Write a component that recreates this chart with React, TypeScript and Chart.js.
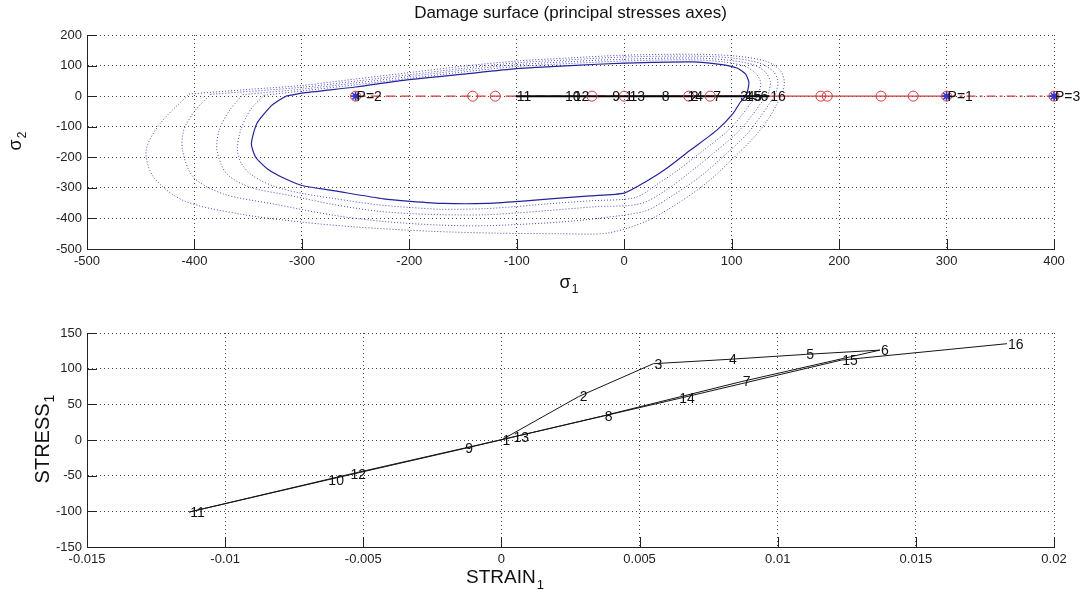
import React, { useEffect, useRef } from 'react';
import { Chart, registerables } from 'chart.js';

Chart.register(...registerables);

// ---------- data ----------

// Stress path: point numbers with uniaxial strain and stress
const pointIds = ['1', '2', '3', '4', '5', '6', '7', '8', '9', '10', '11', '12', '13', '14', '15', '16'];
const strain1 = [0, 0.0028, 0.0055, 0.0082, 0.011, 0.0137, 0.0087, 0.0037, -0.00135, -0.0063, -0.0113, -0.0055, 0.0004, 0.0064, 0.0123, 0.0183];
const stress1 = [0, 61, 107, 113, 120, 126, 82, 34, -12, -56, -101, -48, 4, 58, 112, 135];

// Load points on the sigma1 axis
const loadLabels = ['P=1', 'P=2', 'P=3'];
const loadSigma1 = [300, -250, 400];
// Intermediate load steps (red circles)
const stepSigma1 = [-141, -120, -30, 0, 60, 80, 183, 189, 239, 269];

// Current damage surface (solid)
const surfS1 = [-315, -300, -250, -208, -150, -100, -50, 0, 64, 89, 105, 113, 116, 115, 113, 108, 101, 86, 61, 40, 20, 0, -32, -69, -97, -128, -168, -199, -224, -271, -298, -315, -332, -343, -347, -342, -328, -315];
const surfS2 = [0, 10, 30, 51, 72, 90, 100, 108, 112, 104, 92, 72, 46, 20, 0, -20, -58, -112, -178, -235, -280, -317, -326, -336, -344, -351, -351, -344, -336, -309, -294, -271, -238, -200, -156, -90, -30, 0];

// Grown damage surfaces (dotted)
const grow1S1 = [-335, -300, -250, -200, -150, -100, -50, 0, 64, 92, 112, 122, 127, 126, 124, 118, 110, 96, 72, 50, 30, 10, -30, -70, -100, -130, -170, -200, -230, -270, -300, -325, -345, -356, -360, -357, -348, -335];
const grow1S2 = [3, 17, 37, 58, 79, 97, 107, 115, 119, 112, 98, 76, 46, 20, 0, -22, -60, -115, -182, -242, -290, -332, -342, -352, -361, -368, -370, -364, -355, -335, -318, -296, -262, -222, -175, -112, -45, 3];

const grow2S1 = [-355, -300, -250, -200, -150, -100, -50, 0, 64, 96, 120, 131, 136, 135, 133, 127, 119, 105, 82, 60, 40, 15, -28, -70, -100, -130, -170, -200, -230, -270, -311, -348, -370, -379, -377, -368, -355];
const grow2S2 = [5, 23, 43, 64, 85, 103, 113, 121, 125, 118, 103, 80, 48, 20, 0, -24, -63, -120, -190, -252, -305, -352, -362, -374, -382, -388, -388, -384, -376, -355, -325, -298, -254, -178, -112, -50, 5];

const grow3S1 = [-385, -300, -250, -200, -150, -100, -50, 0, 64, 100, 126, 139, 143, 142, 140, 135, 127, 114, 92, 70, 45, 20, -20, -60, -100, -130, -170, -224, -270, -326, -373, -401, -411, -410, -400, -385];
const grow3S2 = [6, 29, 49, 70, 91, 109, 119, 128, 131, 125, 108, 80, 48, 20, 0, -25, -66, -125, -198, -265, -325, -375, -398, -412, -420, -424, -422, -410, -390, -353, -320, -265, -178, -112, -50, 6];

const grow4S1 = [-405, -350, -300, -250, -200, -150, -100, -50, 0, 64, 104, 132, 145, 149, 148, 146, 142, 135, 122, 100, 78, 50, 20, -16, -60, -120, -180, -250, -300, -357, -410, -438, -445, -432, -405];
const grow4S2 = [7, 22, 35, 56, 77, 98, 115, 125, 134, 137, 131, 114, 85, 50, 20, 0, -27, -70, -130, -208, -280, -350, -410, -448, -450, -448, -442, -428, -412, -386, -342, -265, -178, -90, 7];

// Tick values
const topXTicks = [-500, -400, -300, -200, -100, 0, 100, 200, 300, 400];
const topYTicks = [-500, -400, -300, -200, -100, 0, 100, 200];
const botXTicks = [-0.015, -0.01, -0.005, 0, 0.005, 0.01, 0.015, 0.02];
const botYTicks = [-150, -100, -50, 0, 50, 100, 150];

// ---------- styling helpers ----------

const NARROW = '"Liberation Sans Narrow", "Liberation Sans", Arial, sans-serif';
const SANS = '"Liberation Sans", Arial, Helvetica, sans-serif';
const RED = '#d43a3a';
const NAVY = '#23239a';
const DOT_BLUE = 'rgba(55,55,175,0.9)';

const pts = (xs: number[], ys: number[]) => xs.map((x, i) => ({ x, y: ys[i] }));
const fmt = (v: number) => String(Number(v.toFixed(4)));

type Label = { x: number; y: number; text: string };
type AxisTitle = { main: string; sub: string; cx: number; cy: number; size: number; rotated: boolean };

function drawSubscripted(ctx: CanvasRenderingContext2D, t: AxisTitle) {
  ctx.save();
  ctx.translate(t.cx, t.cy);
  if (t.rotated) ctx.rotate(-Math.PI / 2);
  const subSize = Math.round(t.size * 0.68);
  ctx.font = `${t.size}px ${SANS}`;
  const w1 = ctx.measureText(t.main).width;
  ctx.font = `${subSize}px ${SANS}`;
  const w2 = ctx.measureText(t.sub).width;
  const total = w1 + 1 + w2;
  ctx.fillStyle = '#111';
  ctx.textAlign = 'left';
  ctx.textBaseline = 'middle';
  ctx.font = `${t.size}px ${SANS}`;
  ctx.fillText(t.main, -total / 2, 0);
  ctx.font = `${subSize}px ${SANS}`;
  ctx.fillText(t.sub, -total / 2 + w1 + 1, t.size * 0.38);
  ctx.restore();
}

function decorPlugin(cfg: { title?: string; xTitle: AxisTitle; yTitle: AxisTitle; labels: Label[] }) {
  return {
    id: 'decor',
    afterDatasetsDraw(chart: any) {
      const { ctx, scales } = chart;
      ctx.save();
      ctx.fillStyle = '#111';
      ctx.font = `14px ${NARROW}`;
      ctx.textAlign = 'left';
      ctx.textBaseline = 'middle';
      for (const l of cfg.labels) {
        const px = scales.x.getPixelForValue(l.x);
        const py = scales.y.getPixelForValue(l.y);
        ctx.fillText(l.text, px + 1, py + 1);
      }
      ctx.restore();
    },
    afterDraw(chart: any) {
      const { ctx, chartArea: a, scales } = chart;
      ctx.save();
      // inward tick marks
      ctx.strokeStyle = '#222';
      ctx.lineWidth = 1;
      ctx.beginPath();
      for (const t of scales.x.ticks) {
        const px = Math.round(scales.x.getPixelForValue(t.value)) + 0.5;
        ctx.moveTo(px, a.bottom);
        ctx.lineTo(px, a.bottom - 10);
      }
      for (const t of scales.y.ticks) {
        const py = Math.round(scales.y.getPixelForValue(t.value)) + 0.5;
        ctx.moveTo(a.left, py);
        ctx.lineTo(a.left + 10, py);
      }
      ctx.stroke();
      if (cfg.title) {
        ctx.fillStyle = '#111';
        ctx.font = `17px ${SANS}`;
        ctx.textAlign = 'center';
        ctx.textBaseline = 'alphabetic';
        ctx.fillText(cfg.title, (a.left + a.right) / 2, 18);
      }
      ctx.restore();
      drawSubscripted(ctx, cfg.xTitle);
      drawSubscripted(ctx, cfg.yTitle);
    },
  };
}

function axisOptions(ticks: number[], min: number, max: number, size: number, horizontal: boolean) {
  return {
    type: 'linear',
    min,
    max,
    afterFit: (s: any) => {
      if (horizontal) s.height = size;
      else s.width = size;
    },
    afterBuildTicks: (s: any) => {
      s.ticks = ticks.map((v) => ({ value: v }));
    },
    grid: { color: '#444', lineWidth: 1, drawTicks: false },
    border: { display: true, color: '#222', width: 1, dash: [1, 3] },
    ticks: {
      padding: horizontal ? 5 : 5,
      autoSkip: false,
      maxRotation: 0,
      color: '#222',
      font: { family: NARROW, size: 13 },
      callback: (v: any) => fmt(Number(v)),
    },
  };
}

const lineDs = (data: any[], color: string, width: number, dash: number[], order: number, tension = 0) => ({
  data,
  showLine: true,
  borderColor: color,
  borderWidth: width,
  borderDash: dash,
  pointRadius: 0,
  fill: false,
  tension,
  order,
});

function topConfig(): any {
  const onAxis = (xs: number[]) => xs.map((x) => ({ x, y: 0 }));
  const [p1, p2, p3] = loadSigma1;
  const labels: Label[] = [
    ...loadSigma1.map((x, i) => ({ x, y: 0, text: loadLabels[i] })),
    ...stress1.map((s, i) => ({ x: s, y: 0, text: pointIds[i] })),
  ];
  return {
    type: 'scatter',
    data: {
      datasets: [
        {
          data: onAxis(loadSigma1),
          pointStyle: 'star',
          pointRadius: 4.5,
          borderColor: '#3a32c8',
          borderWidth: 1.6,
          backgroundColor: '#3a32c8',
          showLine: false,
          clip: false,
          order: 0,
        },
        {
          data: onAxis([...stepSigma1, ...loadSigma1]),
          pointStyle: 'circle',
          pointRadius: 5,
          borderColor: RED,
          borderWidth: 1,
          backgroundColor: 'rgba(0,0,0,0)',
          showLine: false,
          clip: false,
          order: 1,
        },
        lineDs(onAxis(stress1), '#050505', 2, [], 2),
        lineDs(onAxis([p2, 0]), RED, 1.2, [10, 5], 3),
        lineDs(onAxis([0, p1]), RED, 1.2, [], 3),
        lineDs(onAxis([p1, p3]), RED, 1.2, [9, 4, 3, 4], 3),
        lineDs(pts(surfS1, surfS2), NAVY, 1.2, [], 4, 0.2),
        lineDs(pts(grow1S1, grow1S2), DOT_BLUE, 1, [1, 2], 5, 0.3),
        lineDs(pts(grow2S1, grow2S2), DOT_BLUE, 1, [1, 2], 5, 0.3),
        lineDs(pts(grow3S1, grow3S2), DOT_BLUE, 1, [1, 2], 5, 0.3),
        lineDs(pts(grow4S1, grow4S2), DOT_BLUE, 1, [1, 2], 5, 0.3),
      ],
    },
    options: {
      animation: false,
      responsive: false,
      devicePixelRatio: 1,
      events: [],
      layout: { padding: { left: 0, right: 26, top: 35, bottom: 0 } },
      plugins: { legend: { display: false }, tooltip: { enabled: false }, title: { display: false } },
      scales: {
        x: axisOptions(topXTicks, -500, 400, 46, true),
        y: axisOptions(topYTicks, -500, 200, 87, false),
      },
    },
    plugins: [
      decorPlugin({
        title: 'Damage surface (principal stresses axes)',
        xTitle: { main: 'σ', sub: '1', cx: 569, cy: 283, size: 18, rotated: false },
        yTitle: { main: 'σ', sub: '2', cx: 16, cy: 141, size: 18, rotated: true },
        labels,
      }),
    ],
  };
}

function bottomConfig(): any {
  const labels: Label[] = strain1.map((e, i) => ({ x: e, y: stress1[i], text: pointIds[i] }));
  return {
    type: 'scatter',
    data: {
      datasets: [lineDs(pts(strain1, stress1), '#151515', 1, [], 1)],
    },
    options: {
      animation: false,
      responsive: false,
      devicePixelRatio: 1,
      events: [],
      layout: { padding: { left: 0, right: 26, top: 38, bottom: 0 } },
      plugins: { legend: { display: false }, tooltip: { enabled: false }, title: { display: false } },
      scales: {
        x: axisOptions(botXTicks, -0.015, 0.02, 48, true),
        y: axisOptions(botYTicks, -150, 150, 87, false),
      },
    },
    plugins: [
      decorPlugin({
        xTitle: { main: 'STRAIN', sub: '1', cx: 505, cy: 283, size: 19, rotated: false },
        yTitle: { main: 'STRESS', sub: '1', cx: 43, cy: 144, size: 20, rotated: true },
        labels,
      }),
    ],
  };
}

export default function App() {
  const topRef = useRef<HTMLCanvasElement>(null);
  const botRef = useRef<HTMLCanvasElement>(null);

  useEffect(() => {
    const top = new Chart(topRef.current as HTMLCanvasElement, topConfig());
    const bot = new Chart(botRef.current as HTMLCanvasElement, bottomConfig());
    return () => {
      top.destroy();
      bot.destroy();
    };
  }, []);

  return (
    <div style={{ position: 'fixed', left: 0, top: 0, width: 1080, height: 595, background: '#fff' }}>
      <canvas ref={topRef} width={1080} height={295} style={{ position: 'absolute', left: 0, top: 0 }} />
      <canvas ref={botRef} width={1080} height={300} style={{ position: 'absolute', left: 0, top: 295 }} />
    </div>
  );
}
